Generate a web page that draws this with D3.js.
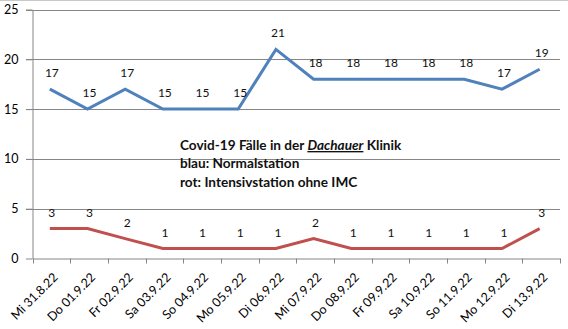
<!DOCTYPE html>
<html><head><meta charset="utf-8">
<script src="https://cdn.jsdelivr.net/npm/d3@7"></script>
<style>
html,body{margin:0;padding:0;background:#fff;}
svg{display:block;font-family:Lato,"Open Sans",sans-serif;}
</style></head>
<body>
<svg id="c" width="568" height="329"></svg>
<script>
const categories = ["Mi 31.8.22","Do 01.9.22","Fr 02.9.22","Sa 03.9.22","So 04.9.22","Mo 05.9.22","Di 06.9.22","Mi 07.9.22","Do 08.9.22","Fr 09.9.22","Sa 10.9.22","So 11.9.22","Mo 12.9.22","Di 13.9.22"];
const normalstation = [17,15,17,15,15,15,21,18,18,18,18,18,17,19];
const intensivstation = [3,3,2,1,1,1,1,2,1,1,1,1,1,3];
const yTicks = [0,5,10,15,20,25];

(function(){
const svg = d3.select("#c");
const mLeft = 32.5, mRight = 560, mTop = 9.5, mBottom = 258.5;
const x = d3.scaleBand().domain(categories).range([mLeft, mRight]);
const y = d3.scaleLinear().domain([0,25]).range([mBottom, mTop]);
const px = d => x(d) + x.bandwidth()/2 - 1.5;

// top frame line
svg.append("line").attr("x1",0).attr("x2",568).attr("y1",0.5).attr("y2",0.5).attr("stroke","#c8c8c8");

// gridlines
svg.append("g").selectAll("line").data(yTicks.filter(t=>t>0)).join("line")
  .attr("x1",26).attr("x2",mRight).attr("y1",d=>Math.round(y(d))+0.5).attr("y2",d=>Math.round(y(d))+0.5)
  .attr("stroke","#868686").attr("stroke-width",1);

// y axis
const ya = svg.append("g").attr("transform",`translate(${mLeft},0)`)
  .call(d3.axisLeft(y).tickValues(yTicks).tickSize(6.5).tickSizeOuter(0));
ya.select(".domain").attr("stroke","#868686");
ya.selectAll(".tick line").attr("stroke","#868686");
ya.selectAll(".tick text").attr("x",-14).attr("fill","#000").style("font-size","12.5px").style("font-family","Lato,sans-serif");

// x axis
const xa = svg.append("g").attr("transform",`translate(0,${mBottom})`)
  .call(d3.axisBottom(x).tickSize(0).tickSizeOuter(0));
xa.select(".domain").attr("stroke","#868686");
xa.selectAll(".tick text").remove();
svg.append("g").selectAll("line").data(categories.concat(["__end"])).join("line")
  .attr("x1",(d,i)=>Math.round(i<categories.length?x(d):mRight)+0.5)
  .attr("x2",(d,i)=>Math.round(i<categories.length?x(d):mRight)+0.5)
  .attr("y1",mBottom).attr("y2",mBottom+5).attr("stroke","#868686");

svg.append("g").selectAll("text").data(categories).join("text")
  .attr("transform",d=>`translate(${px(d)+2.5},${mBottom+13.5}) rotate(-45)`)
  .attr("text-anchor","end").attr("dy","0.7em")
  .style("font-size","12.5px").attr("fill","#000").text(d=>d);

// lines
const line = vals => d3.line().x((d,i)=>px(categories[i])).y(d=>y(d))(vals);
svg.append("path").attr("d",line(normalstation)).attr("fill","none").attr("stroke","#4F81BD").attr("stroke-width",3).attr("stroke-linejoin","miter");
svg.append("path").attr("d",line(intensivstation)).attr("fill","none").attr("stroke","#C0504D").attr("stroke-width",3).attr("stroke-linejoin","miter");

// data labels
function labels(vals){
  svg.append("g").selectAll("text").data(vals).join("text")
    .attr("x",(d,i)=>px(categories[i])+2).attr("y",d=>y(d)-12)
    .attr("text-anchor","middle").style("font-size","12px").attr("fill","#111").text(d=>d);
}
labels(normalstation); labels(intensivstation);

// annotation
const ann = svg.append("g").style("font-weight","bold").style("font-size","13.6px").attr("fill","#111");
const t1 = ann.append("text").attr("x",180).attr("y",150);
t1.append("tspan").text("Covid-19 Fälle in der ");
t1.append("tspan").style("font-style","italic").style("text-decoration","underline").text("Dachauer");
t1.append("tspan").text(" Klinik");
ann.append("text").attr("x",180).attr("y",168).text("blau: Normalstation");
ann.append("text").attr("x",180).attr("y",187).text("rot: Intensivstation ohne IMC");
})();
</script>
</body></html>
